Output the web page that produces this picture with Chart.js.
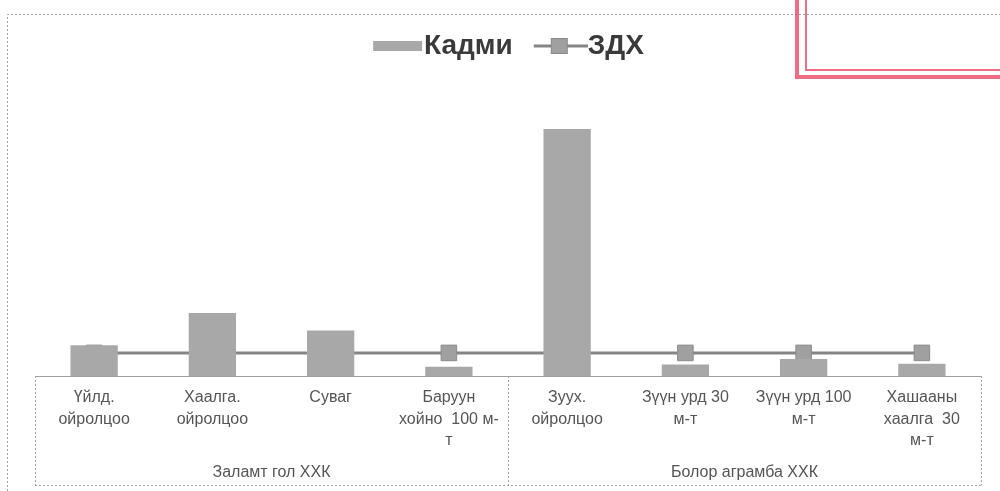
<!DOCTYPE html>
<html>
<head>
<meta charset="utf-8">
<script src="https://cdn.jsdelivr.net/npm/chart.js@4.4.0/dist/chart.umd.min.js"></script>
<style>
    html, body { margin: 0; padding: 0; background: #fff; }
    #wrap { width: 1000px; height: 491px; }
</style>
</head>
<body>
<div id="wrap"><canvas id="cadmiumChart"></canvas></div>
<script>
// Chart data
const categories = [
    ['Үйлд.', 'ойролцоо'],
    ['Хаалга.', 'ойролцоо'],
    'Суваг',
    ['Баруун', 'хойно  100 м-', 'т'],
    ['Зуух.', 'ойролцоо'],
    ['Зүүн урд 30', 'м-т'],
    ['Зүүн урд 100', 'м-т'],
    ['Хашааны', 'хаалга  30', 'м-т']
];
const groups = ['Заламт гол ХХК', 'Болор аграмба ХХК'];
const cadmiumValues = [4.0, 8.2, 5.9, 1.2, 32.1, 1.5, 2.2, 1.6];
const limitValues = [3, 3, 3, 3, 3, 3, 3, 3];

const barColor = '#a8a8a8';
const lineColor = '#858585';
const textColor = '#555555';

// legend swatches drawn as small images; the blank left part keeps the
// swatch right next to its text, as in the scan
function barSwatch() {
    const c = document.createElement('canvas');
    c.width = 82; c.height = 10;
    const g = c.getContext('2d');
    g.fillStyle = barColor;
    g.fillRect(31, 0, 49, 10);
    return c;
}

function lineSwatch() {
    const c = document.createElement('canvas');
    c.width = 82; c.height = 16;
    const g = c.getContext('2d');
    g.strokeStyle = lineColor;
    g.lineWidth = 3;
    g.beginPath();
    g.moveTo(28, 8);
    g.lineTo(82, 8);
    g.stroke();
    g.fillStyle = '#a0a0a0';
    g.strokeStyle = '#8a8a8a';
    g.lineWidth = 1;
    g.fillRect(45, 0, 17, 16);
    g.strokeRect(45.5, 0.5, 16, 15);
    return c;
}

// extra room under the legend, and nudge it a bit to the left
const legendSpace = {
    id: 'legendSpace',
    beforeInit(chart) {
        const fit = chart.legend.fit;
        chart.legend.fit = function() {
            fit.bind(chart.legend)();
            this.height += 29;
        };
    },
    afterLayout(chart) {
        chart.legend.left -= 8;
        chart.legend.right -= 8;
    }
};

// dotted frame round the labels, like the scanned sheet
const framePlugin = {
    id: 'framePlugin',
    afterDraw(chart) {
        const {ctx, chartArea, scales} = chart;
        const x = scales.x;
        const bottom = chart.height - 6;
        const mid = (x.getPixelForValue(3) + x.getPixelForValue(4)) / 2;
        ctx.save();
        ctx.strokeStyle = '#a0a0a0';
        ctx.lineWidth = 1;
        ctx.setLineDash([2, 2]);
        ctx.beginPath();
        [x.left, mid, x.right].forEach(function(px) {
            ctx.moveTo(Math.round(px) + 0.5, chartArea.bottom);
            ctx.lineTo(Math.round(px) + 0.5, bottom);
        });
        ctx.moveTo(x.left, bottom + 0.5);
        ctx.lineTo(x.right, bottom + 0.5);
        // outer sheet border
        ctx.moveTo(7.5, chart.height);
        ctx.lineTo(7.5, 14.5);
        ctx.lineTo(chart.width, 14.5);
        ctx.stroke();
        // red stamp corner
        ctx.setLineDash([]);
        ctx.strokeStyle = 'rgba(235, 60, 90, 0.75)';
        ctx.lineWidth = 4;
        ctx.beginPath();
        ctx.moveTo(797, 0);
        ctx.lineTo(797, 77);
        ctx.lineTo(chart.width, 77);
        ctx.stroke();
        ctx.lineWidth = 2;
        ctx.beginPath();
        ctx.moveTo(806, 0);
        ctx.lineTo(806, 70);
        ctx.lineTo(chart.width, 70);
        ctx.stroke();
        ctx.restore();
    }
};

function initCadmiumChart() {
    const ctx = document.getElementById('cadmiumChart');
    new Chart(ctx, {
        data: {
            labels: categories,
            datasets: [{
                type: 'bar',
                label: 'Кадми',
                data: cadmiumValues,
                backgroundColor: barColor,
                borderWidth: 0,
                barPercentage: 0.4,
                categoryPercentage: 1,
                order: 1
            }, {
                type: 'line',
                label: 'ЗДХ',
                data: limitValues,
                borderColor: lineColor,
                borderWidth: 3,
                backgroundColor: '#a0a0a0',
                pointStyle: 'rect',
                pointRadius: 11,
                pointBorderColor: '#8a8a8a',
                pointBorderWidth: 1,
                pointBackgroundColor: '#a0a0a0',
                order: 2
            }]
        },
        options: {
            responsive: true,
            maintainAspectRatio: false,
            animation: false,
            layout: {
                padding: { left: 35, right: 19, top: 25, bottom: 9 }
            },
            plugins: {
                legend: {
                    position: 'top',
                    labels: {
                        usePointStyle: true,
                        pointStyleWidth: 54,
                        padding: 7,
                        color: '#3a3a3a',
                        font: { family: 'Liberation Sans', size: 28, weight: 'bold' },
                        generateLabels: function(chart) {
                            return chart.data.datasets.map(function(ds, i) {
                                return {
                                    text: ds.label,
                                    pointStyle: i === 0 ? barSwatch() : lineSwatch(),
                                    fontColor: '#3a3a3a',
                                    lineWidth: 0,
                                    datasetIndex: i
                                };
                            });
                        }
                    }
                },
                tooltip: { enabled: false }
            },
            scales: {
                y: {
                    display: false,
                    min: 0,
                    max: 36
                },
                x: {
                    grid: { display: false, drawTicks: false },
                    border: { display: true, color: '#a0a0a0', dash: [2, 2], width: 1 },
                    ticks: {
                        autoSkip: false,
                        maxRotation: 0,
                        padding: 11,
                        color: textColor,
                        font: { family: 'Liberation Sans', size: 16, lineHeight: 1.35 }
                    }
                },
                x2: {
                    type: 'category',
                    position: 'bottom',
                    labels: groups,
                    offset: true,
                    grid: { display: false, drawTicks: false },
                    border: { display: false },
                    ticks: {
                        padding: 0,
                        color: textColor,
                        font: { family: 'Liberation Sans', size: 16 }
                    }
                }
            }
        },
        plugins: [legendSpace, framePlugin]
    });
}

document.addEventListener('DOMContentLoaded', initCadmiumChart);
</script>
</body>
</html>
